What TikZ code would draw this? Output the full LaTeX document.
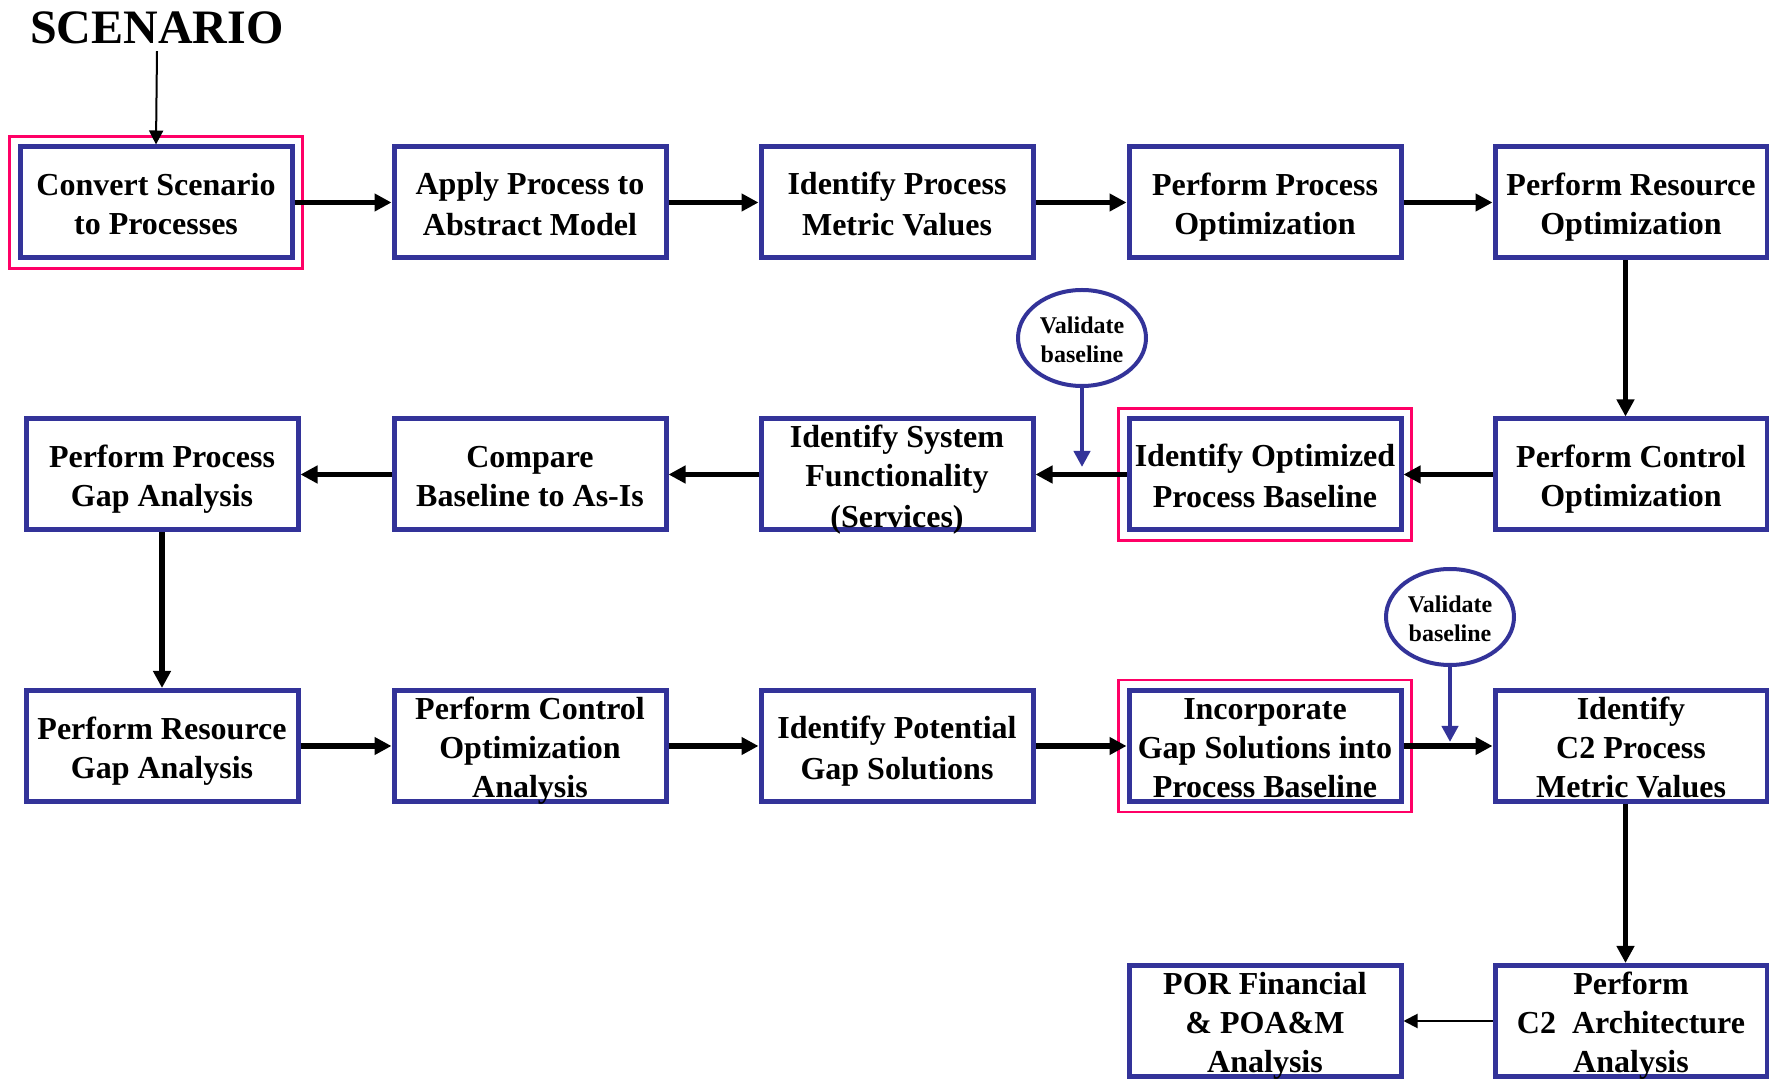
\documentclass[tikz,border=0pt]{standalone}
\usepackage{fontspec}
\setmainfont{Liberation Serif}
\usetikzlibrary{arrows.meta,shapes.geometric,fit}

\definecolor{boxblue}{HTML}{333399}
\definecolor{framepink}{HTML}{FF0066}

% struts on the first and last line give every text block the same extent
\newcommand\bs{\rule[-3.45pt]{0pt}{19.5pt}}
\newcommand\os{\rule[-2.05pt]{0pt}{14.5pt}}

\tikzset{
  stepbox/.style={draw=boxblue, line width=2.5pt, fill=white,
    minimum width=136pt, minimum height=55.5pt,
    inner xsep=0pt, inner ysep=-2pt,
    align=center, font=\bfseries\fontsize{16}{19.5}\selectfont},
  checkoval/.style={ellipse, draw=boxblue, line width=2pt, fill=white,
    minimum width=64pt, minimum height=48pt, inner sep=0pt,
    align=center, font=\bfseries\fontsize{12}{14.5}\selectfont},
  hiframe/.style={draw=framepink, line width=1.2pt, inner sep=4pt},
  flow/.style={line width=2.6pt, -{Triangle[length=8.5pt,width=8.5pt]}},
  thinflow/.style={line width=1pt, -{Triangle[length=7pt,width=7pt]}},
  checkflow/.style={draw=boxblue, line width=2pt,
    -{Triangle[length=8pt,width=8pt]}},
}

\begin{document}
\begin{tikzpicture}[x=0.5pt, y=-0.5pt]
\useasboundingbox (0,0) rectangle (1769,1079);

% title
\node (title) at (157,28) {\bfseries\fontsize{24}{26}\selectfont SCENARIO};

% first row (left to right)
\node[stepbox] (a1) at (156,202.5) {\bs Convert Scenario\\to Processes\bs};
\node[stepbox] (a2) at (530,202.5) {\bs Apply Process to\\Abstract Model\bs};
\node[stepbox] (a3) at (897,202.5) {\bs Identify Process\\Metric Values\bs};
\node[stepbox] (a4) at (1265,202.5) {\bs Perform Process\\Optimization\bs};
\node[stepbox] (a5) at (1631,202.5) {\bs Perform Resource\\Optimization\bs};

% second row (right to left)
\node[stepbox] (b5) at (1631,474.5) {\bs Perform Control\\Optimization\bs};
\node[stepbox] (b4) at (1265,474.5) {\bs Identify Optimized\\Process Baseline\bs};
\node[stepbox] (b3) at (897,474.5) {\bs Identify System\\Functionality\\(Services)\bs};
\node[stepbox] (b2) at (530,474.5) {\bs Compare\\Baseline to As-Is\bs};
\node[stepbox] (b1) at (162,474.5) {\bs Perform Process\\Gap Analysis\bs};

% third row (left to right)
\node[stepbox] (c1) at (162,746) {\bs Perform Resource\\Gap Analysis\bs};
\node[stepbox] (c2) at (530,746) {\bs Perform Control\\Optimization\\Analysis\bs};
\node[stepbox] (c3) at (897,746) {\bs Identify Potential\\Gap Solutions\bs};
\node[stepbox] (c4) at (1265,746) {\bs Incorporate\\Gap Solutions into\\Process Baseline\bs};
\node[stepbox] (c5) at (1631,746) {\bs Identify\\C2 Process\\Metric Values\bs};

% fourth row
\node[stepbox] (d5) at (1631,1021) {\bs Perform\\C2\ \ Architecture\\Analysis\bs};
\node[stepbox] (d4) at (1265,1021) {\bs POR Financial\\\& POA\&M\\Analysis\bs};

% highlighted steps
\node[hiframe, fit=(a1)] (fa1) {};
\node[hiframe, fit=(b4)] (fb4) {};
\node[hiframe, fit=(c4)] (fc4) {};

% validation ovals
\node[checkoval] (v1) at (1082,338) {\os Validate\\baseline\os};
\node[checkoval] (v2) at (1450,617) {\os Validate\\baseline\os};
\coordinate (v1end) at (1082,467);
\coordinate (v2end) at (1450,742);

% connectors
\draw[thinflow] (title.south) -- (a1.north);

\draw[flow] (a1) -- (a2);
\draw[flow] (a2) -- (a3);
\draw[flow] (a3) -- (a4);
\draw[flow] (a4) -- (a5);
\draw[flow] ([xshift=-2.75pt]a5.south) -- ([xshift=-2.75pt]b5.north);

\draw[flow] (b5) -- (b4);
\draw[flow] (b4) -- (b3);
\draw[flow] (b3) -- (b2);
\draw[flow] (b2) -- (b1);
\draw[flow] (b1) -- (c1);

\draw[flow] (c1) -- (c2);
\draw[flow] (c2) -- (c3);
\draw[flow] (c3) -- (c4);
\draw[flow] (c4) -- (c5);
\draw[flow] ([xshift=-2.75pt]c5.south) -- ([xshift=-2.75pt]d5.north);

\draw[thinflow] (d5) -- (d4);

\draw[checkflow] (v1) -- (v1end);
\draw[checkflow] (v2) -- (v2end);
\end{tikzpicture}
\end{document}
